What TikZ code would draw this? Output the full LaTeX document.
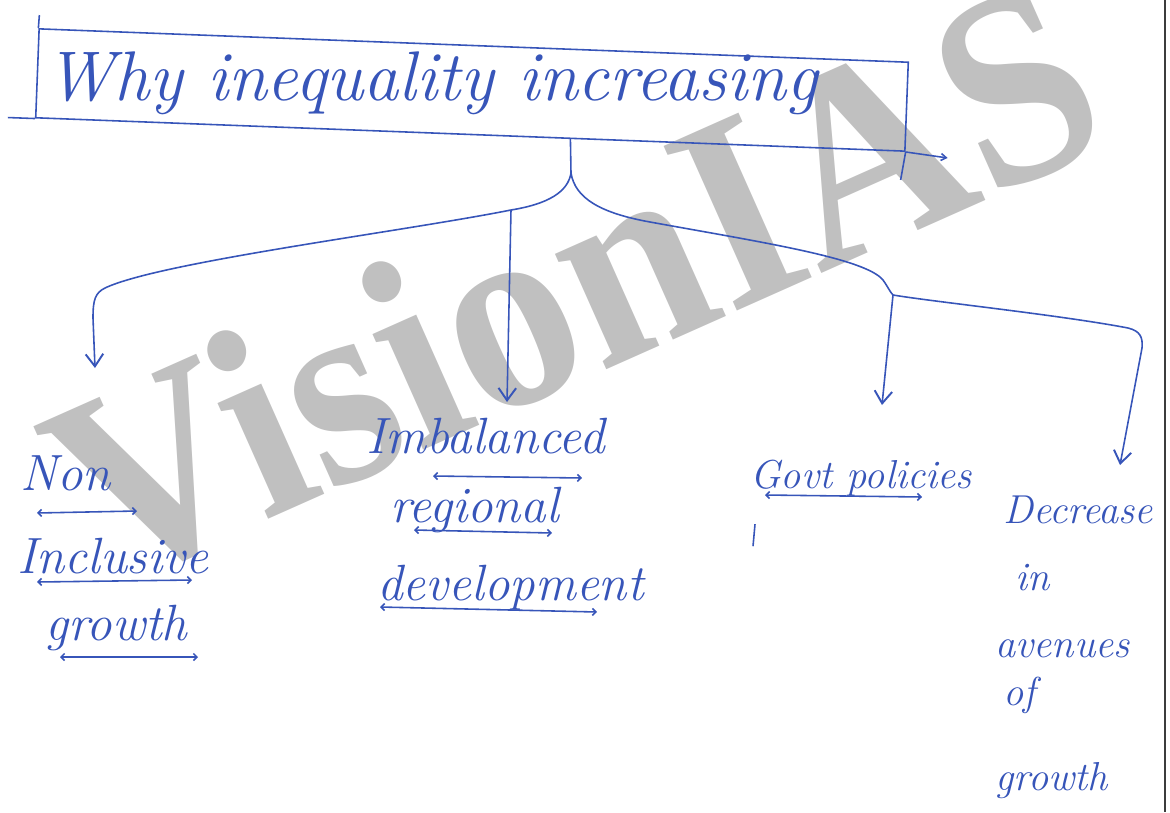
\documentclass[tikz,border=0pt]{standalone}
\usepackage{fontspec}
\usepackage{tikz}
\usetikzlibrary{positioning,arrows.meta,calc}
\newfontfamily\wmfont{Liberation Serif}
\definecolor{penblue}{RGB}{55, 85, 185}
\definecolor{wmgray}{RGB}{192, 192, 192}
\definecolor{scanedge}{RGB}{60, 60, 60}

\begin{document}
\begin{tikzpicture}[x=0.02cm, y=-0.02cm]
\tikzset{
  hand/.style={anchor=base west, inner sep=0pt, text=penblue, font=\itshape\fontsize{29}{29}\selectfont},
  handsm/.style={hand, font=\itshape\fontsize{23}{23}\selectfont},
  titletext/.style={hand, font=\itshape\fontsize{40}{40}\selectfont},
  titleframe/.style={rectangle, draw=penblue, line width=0.9pt, inner sep=0pt,
    minimum width=17.4cm, minimum height=1.78cm},
  wmark/.style={anchor=base west, inner sep=0pt, text=wmgray, font=\wmfont\bfseries\fontsize{145}{145}\selectfont},
  pen/.style={draw=penblue, line width=0.9pt},
  arr/.style={pen, -{Straight Barb[length=7pt,width=10pt,line width=1.1pt]}},
  uline/.style={pen, {Straight Barb[length=2pt,width=4pt]}-{Straight Barb[length=2pt,width=4pt]}}
}
\useasboundingbox (0,0) rectangle (1170,812);
\node[wmark, rotate=24, yscale=1.08] (wm) at (104,593) {VisionIAS};
\node[titletext] (title) at (45,100) {Why inequality increasing};
\node[titleframe, rotate=-2.2] (titlebox) at (472,90) {};
\draw[pen] (titlebox.north west) -- ++(1,-13);
\draw[pen] (titlebox.south west) -- ++(-27,-1);
\draw[pen, -{Straight Barb[length=3pt,width=4pt]}] (titlebox.south east) -- ++(42,6);
\draw[pen] (titlebox.south east) -- ++(-5,28);
\coordinate (stem) at ($(titlebox.south west)!0.615!(titlebox.south east)$);
\coordinate (fork) at (571,173);
\coordinate (forkM) at (511,210);
\coordinate (forkR) at (893,295);
\coordinate (tipA) at (95,368);
\coordinate (tipB) at (507,402);
\coordinate (tipC) at (882,405);
\coordinate (tipD) at (1120,465);
\node[hand] (non1) at (20,490) {Non};
\node[hand] (non2) at (17,573) {Inclusive};
\node[hand] (non3) at (45,640) {growth};
\node[hand] (imb1) at (366,453) {Imbalanced};
\node[hand] (imb2) at (390,522) {regional};
\node[hand] (imb3) at (377,600) {development};
\node[handsm] (govt) at (750,488) {Govt policies};
\node[handsm] (dec1) at (1003,523) {Decrease};
\node[handsm] (dec2) at (1015,590) {in};
\node[handsm] (dec3) at (995,657) {avenues};
\node[handsm] (dec4) at (1003,705) {of};
\node[handsm] (dec5) at (995,790) {growth};
\draw[pen] (stem) -- (fork);
\draw[arr] (fork) .. controls (568,192) and (548,204) .. (forkM)
  .. controls (400,232) and (160,262) .. (105,288)
  .. controls (95,293) and (93,300) .. (93,318) -- (tipA);
\draw[arr] (forkM) -- (tipB);
\draw[pen] (fork) .. controls (575,198) and (600,213) .. (650,222)
  .. controls (760,242) and (865,258) .. (883,280)
  .. controls (888,287) and (890,292) .. (forkR);
\draw[arr] (forkR) -- (tipC);
\draw[arr] (forkR) .. controls (935,302) and (1060,315) .. (1128,328)
  .. controls (1140,331) and (1143,337) .. (1142,348) -- (tipD);
\draw[uline] (37,513) -- (137,511);
\draw[uline] (37,582) -- (192,580);
\draw[uline] (60,657) -- (198,657);
\draw[uline] (433,476) -- (582,478);
\draw[uline] (414,530) -- (552,533);
\draw[uline] (380,607) -- (597,612);
\draw[uline] (765,495) -- (922,497);
\draw[pen] (govt.south west) ++(5,28) -- ++(-2,22);
\draw[scanedge, line width=1.5pt] (1165,0) -- (1165,812);
\end{tikzpicture}
\end{document}
